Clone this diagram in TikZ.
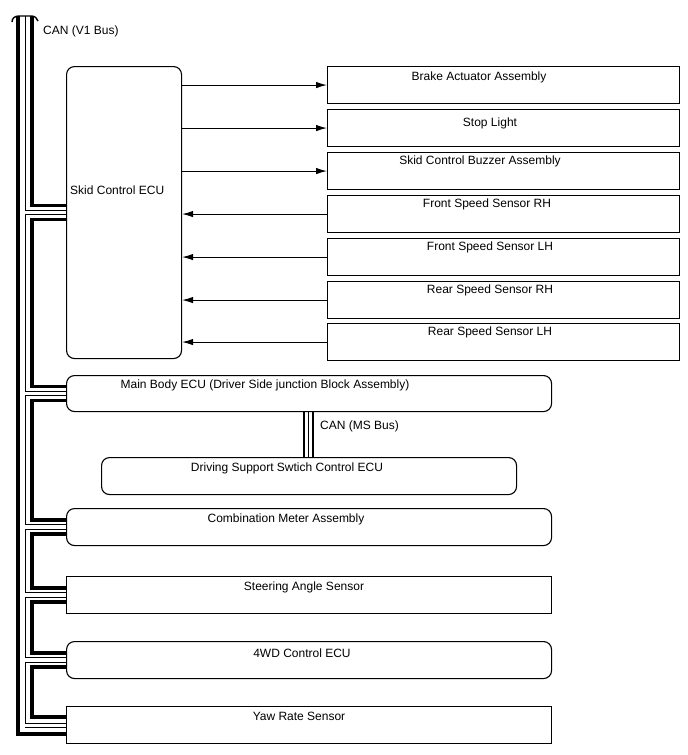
\documentclass[tikz,border=0pt]{standalone}
\usepackage{fontspec}
\setmainfont{Liberation Sans}
\usetikzlibrary{arrows.meta,calc}
\pgfdeclarelayer{background}
\pgfsetlayers{background,main}
\begin{document}
\begin{tikzpicture}[x=1pt,y=-1pt,
  box/.style={draw, line width=1.1pt, inner sep=0pt, anchor=north west},
  rbox/.style={box, rounded corners=8pt},
  lbl/.style={font=\fontsize{12}{14}\selectfont, inner sep=0pt, anchor=base},
  llbl/.style={lbl, anchor=base west},
  sig/.style={line width=1.1pt, -{Latex[length=11pt,width=6.5pt]}},
  thk/.style={line width=3.5pt},
  thn/.style={line width=1pt},
  dbl/.style={line width=1pt, double=white, double distance=3.6pt},
]
\useasboundingbox (0,0) rectangle (688,755);

% ECU boxes
\node[rbox, minimum width=115pt, minimum height=292pt] (skid) at (66,66) {};
\node[box, minimum width=352pt, minimum height=37pt] (brake) at (327,66) {};
\node[box, minimum width=352pt, minimum height=37pt] (stop) at (327,109) {};
\node[box, minimum width=352pt, minimum height=37pt] (buzz) at (327,152) {};
\node[box, minimum width=352pt, minimum height=37pt] (frh) at (327,195) {};
\node[box, minimum width=352pt, minimum height=37pt] (flh) at (327,238) {};
\node[box, minimum width=352pt, minimum height=37pt] (rrh) at (327,281) {};
\node[box, minimum width=352pt, minimum height=37pt] (rlh) at (327,323) {};
\node[rbox, minimum width=485pt, minimum height=36pt] (mbody) at (66,375) {};
\node[rbox, minimum width=415pt, minimum height=37pt] (drv) at (101,457) {};
\node[rbox, minimum width=485pt, minimum height=37pt] (comb) at (66,508) {};
\node[box, minimum width=485pt, minimum height=37pt] (steer) at (66,576) {};
\node[rbox, minimum width=485pt, minimum height=37pt] (fwd) at (66,641) {};
\node[box, minimum width=485pt, minimum height=37pt] (yaw) at (66,706) {};

% labels
\node[llbl] (lcan) at (43,34) {CAN (V1 Bus)};
\node[llbl] (lskid) at (70,194) {Skid Control ECU};
\node[lbl] (lbrake) at (479,80) {Brake Actuator Assembly};
\node[lbl] (lstop) at (490,126) {Stop Light};
\node[lbl] (lbuzz) at (480,164) {Skid Control Buzzer Assembly};
\node[lbl] (lfrh) at (487,207) {Front Speed Sensor RH};
\node[lbl] (lflh) at (490,250) {Front Speed Sensor LH};
\node[lbl] (lrrh) at (490,293) {Rear Speed Sensor RH};
\node[lbl] (lrlh) at (490,335) {Rear Speed Sensor LH};
\node[lbl] (lmbody) at (265,388) {Main Body ECU (Driver Side junction Block Assembly)};
\node[llbl] (lms) at (320,429) {CAN (MS Bus)};
\node[lbl] (ldrv) at (287,471) {Driving Support Swtich Control ECU};
\node[lbl] (lcomb) at (286,522) {Combination Meter Assembly};
\node[lbl] (lsteer) at (304,590) {Steering Angle Sensor};
\node[lbl] (lfwd) at (302,657) {4WD Control ECU};
\node[lbl] (lyaw) at (299,720) {Yaw Rate Sensor};

% signal arrows
\draw[sig] (skid.east |- brake.west) -- (brake.west);
\draw[sig] (skid.east |- stop.west) -- (stop.west);
\draw[sig] (skid.east |- buzz.west) -- (buzz.west);
\draw[sig] (frh.west) -- (skid.east |- frh.west);
\draw[sig] (flh.west) -- (skid.east |- flh.west);
\draw[sig] (rrh.west) -- (skid.east |- rrh.west);
\draw[sig] (rlh.west) -- (skid.east |- rlh.west);

% CAN MS bus
\coordinate (msa) at (304,0);
\coordinate (msb) at (308.5,0);
\coordinate (msc) at (313,0);
\draw[line width=2.8pt] (msa |- mbody.south) -- (msa |- drv.north);
\draw[thn] (msb |- mbody.south) -- (msb |- drv.north);
\draw[line width=2.8pt] (msc |- mbody.south) -- (msc |- drv.north);

% CAN V1 bus coordinates
\coordinate (inner) at (32,16);
\coordinate (mid) at (25,16);
\coordinate (outer) at (18,16);
\foreach \d in {skid,mbody,comb,steer,fwd}{
  \coordinate (\d-in) at ($(\d.west)+(0,-7)$);
  \coordinate (\d-out) at ($(\d.west)+(0,7)$);
}
\coordinate (yaw-in) at ($(yaw.west)+(0,-8)$);
\coordinate (yaw-dbl) at ($(yaw.west)+(0,0.5)$);
\coordinate (yaw-end) at ($(yaw.west)+(0,2.8)$);
\coordinate (yaw-out) at ($(yaw.west)+(0,9)$);

\begin{pgfonlayer}{background}
\draw[line width=1.4pt] (12,22) .. controls (12,18) and (15,16) .. (19,16) -- (31,16) .. controls (35,16) and (37,18) .. (38,21);
% inner daisy chain
\draw[thk] (inner) |- (skid-in);
\draw[thk] (skid-out) -- (skid-out -| inner) |- (mbody-in);
\draw[thk] (mbody-out) -- (mbody-out -| inner) |- (comb-in);
\draw[thk] (comb-out) -- (comb-out -| inner) |- (steer-in);
\draw[thk] (steer-out) -- (steer-out -| inner) |- (fwd-in);
\draw[thk] (fwd-out) -- (fwd-out -| inner) |- (yaw-in);
% thin line with branches
\draw[thn] (mid) -- (yaw-end -| mid);
\draw[dbl] (skid.west -| mid) -- (skid.west);
\draw[dbl] (mbody.west -| mid) -- (mbody.west);
\draw[dbl] (comb.west -| mid) -- (comb.west);
\draw[dbl] (steer.west -| mid) -- (steer.west);
\draw[dbl] (fwd.west -| mid) -- (fwd.west);
\draw[dbl] (yaw-dbl -| mid) -- (yaw-dbl);
% outer line
\draw[thk] (outer) |- (yaw-out);
\end{pgfonlayer}
\end{tikzpicture}
\end{document}
